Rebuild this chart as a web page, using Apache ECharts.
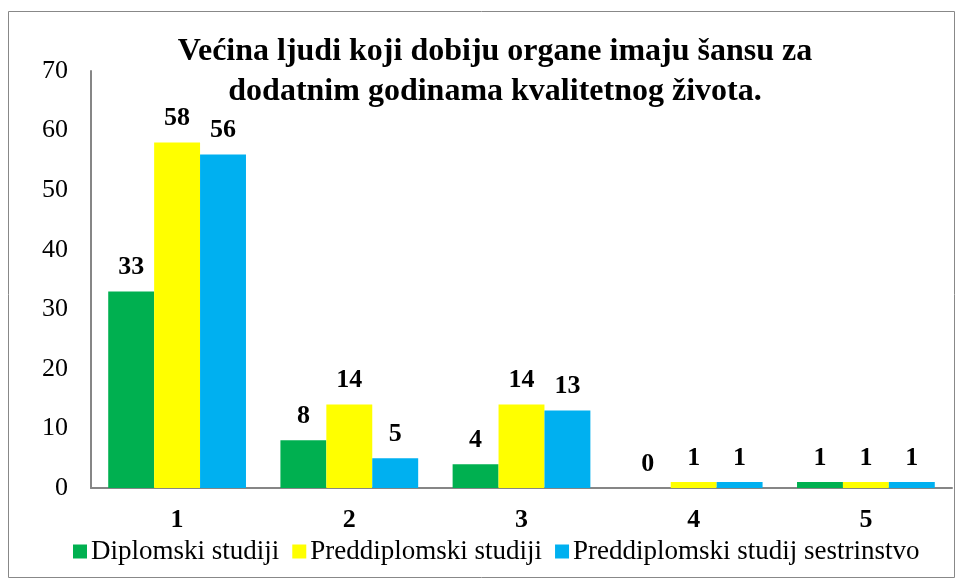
<!DOCTYPE html>
<html>
<head>
<meta charset="utf-8">
<script src="https://cdn.jsdelivr.net/npm/echarts@6/dist/echarts.min.js"></script>
<style>
  html, body { margin: 0; padding: 0; background: #fff; }
  #main { width: 959px; height: 583px; }
</style>
</head>
<body>
<div id="main"></div>
<script>
// podaci
const categories = ['1', '2', '3', '4', '5'];
const diplomski = [33, 8, 4, 0, 1];
const preddiplomski = [58, 14, 14, 1, 1];
const sestrinstvo = [56, 5, 13, 1, 1];
const seriesNames = ['Diplomski studiji', 'Preddiplomski studiji', 'Preddiplomski studij sestrinstvo'];
const colors = ['#00B050', '#FFFF00', '#00B0F0'];

const serif = '"Liberation Serif", "Times New Roman", serif';

const chartDom = document.getElementById('main');
const myChart = echarts.init(chartDom);

const labelStyle = {
  show: true,
  position: 'top',
  distance: 11,
  fontFamily: serif,
  fontWeight: 'bold',
  fontSize: 26,
  color: '#000'
};

const mkSeries = (name, data, color) => ({
  name: name,
  type: 'bar',
  data: data,
  barGap: '0%',
  barCategoryGap: '20%',
  itemStyle: { color: color },
  label: labelStyle
});

const option = {
  animation: false,
  textStyle: { fontFamily: serif },
  title: {
    text: 'Većina ljudi koji dobiju organe imaju šansu za\ndodatnim godinama kvalitetnog života.',
    left: 490,
    textAlign: 'center',
    top: 27,
    textStyle: {
      fontFamily: serif,
      fontWeight: 'bold',
      fontSize: 32,
      lineHeight: 40,
      color: '#000'
    }
  },
  graphic: [{
    type: 'rect',
    shape: { x: 8.5, y: 11.5, width: 946, height: 566 },
    style: { fill: 'none', stroke: '#888', lineWidth: 1 },
    silent: true
  }],
  legend: {
    bottom: 13,
    left: 68,
    itemWidth: 14,
    itemHeight: 14,
    itemGap: 13,
    icon: 'rect',
    textStyle: { fontFamily: serif, fontSize: 27, color: '#000', padding: [0, 0, 0, -1] },
    data: seriesNames
  },
  grid: {
    left: 91,
    right: 7,
    top: 71,
    bottom: 95,
    containLabel: false
  },
  xAxis: {
    type: 'category',
    data: categories,
    axisLine: { lineStyle: { color: '#868686', width: 2 } },
    axisTick: { show: false },
    axisLabel: {
      fontFamily: serif,
      fontWeight: 'bold',
      fontSize: 26,
      color: '#000',
      margin: 19
    }
  },
  yAxis: {
    type: 'value',
    min: 0,
    max: 70,
    interval: 10,
    splitLine: { show: false },
    axisLine: { show: true, lineStyle: { color: '#868686', width: 2 } },
    axisTick: { show: false },
    axisLabel: {
      fontFamily: serif,
      fontSize: 26,
      color: '#000',
      margin: 23
    }
  },
  series: [
    mkSeries(seriesNames[0], diplomski, colors[0]),
    mkSeries(seriesNames[1], preddiplomski, colors[1]),
    mkSeries(seriesNames[2], sestrinstvo, colors[2])
  ]
};

myChart.setOption(option);
</script>
</body>
</html>
